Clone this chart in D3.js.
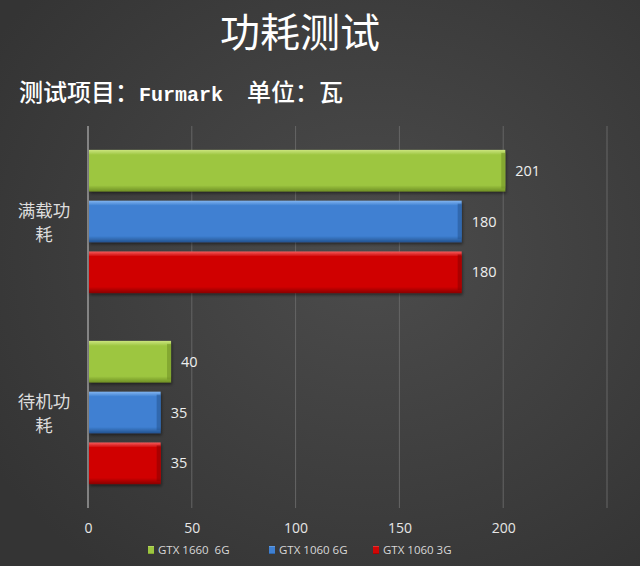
<!DOCTYPE html>
<html>
<head>
<meta charset="utf-8">
<script src="https://cdn.jsdelivr.net/npm/d3@7"></script>
<style>
  html, body { margin: 0; padding: 0; background: #3d3d3d; }
  svg { display: block; }
</style>
</head>
<body>
<svg id="chart"></svg>
<script>
// data
const categories = ["满载功耗", "待机功耗"];
const categoryLines = [["满载功", "耗"], ["待机功", "耗"]];
const series = ["GTX 1660  6G", "GTX 1060 6G", "GTX 1060 3G"];
const gtx1660_6g = [201, 40];
const gtx1060_6g = [180, 35];
const gtx1060_3g = [180, 35];
const xTicks = [0, 50, 100, 150, 200];

const values = [gtx1660_6g, gtx1060_6g, gtx1060_3g];
const colors = [
  { top: "#cce57f", mid: "#9dc640", bot: "#6f8f24" },
  { top: "#82b5f0", mid: "#3f80d2", bot: "#24538f" },
  { top: "#f45c5c", mid: "#d00606", bot: "#8a0000" }
];

const width = 640, height = 566;
const margin = { top: 126, right: 33, bottom: 58, left: 88 };

const svg = d3.select("#chart")
  .attr("width", width)
  .attr("height", height);

const defs = svg.append("defs");

// background
const bg = defs.append("radialGradient").attr("id", "bg")
  .attr("cx", "58%").attr("cy", "45%").attr("r", "70%");
bg.append("stop").attr("offset", "0%").attr("stop-color", "#4c4c4c");
bg.append("stop").attr("offset", "100%").attr("stop-color", "#343434");
svg.append("rect").attr("width", width).attr("height", height).attr("fill", "url(#bg)");

// bar gradients
colors.forEach((c, i) => {
  const g = defs.append("linearGradient").attr("id", "bar" + i)
    .attr("x1", 0).attr("y1", 0).attr("x2", 0).attr("y2", 1);
  g.append("stop").attr("offset", "0%").attr("stop-color", c.top);
  g.append("stop").attr("offset", "12%").attr("stop-color", c.mid);
  g.append("stop").attr("offset", "85%").attr("stop-color", c.mid);
  g.append("stop").attr("offset", "100%").attr("stop-color", c.bot);
});

const shadow = defs.append("filter").attr("id", "shadow")
  .attr("x", "-5%").attr("y", "-20%").attr("width", "115%").attr("height", "150%");
shadow.append("feDropShadow").attr("dx", 1).attr("dy", 2).attr("stdDeviation", 1.5)
  .attr("flood-color", "#000").attr("flood-opacity", 0.45);

const x = d3.scaleLinear()
  .domain([0, 250])
  .range([margin.left, width - margin.right]);

const y = d3.scaleBand()
  .domain(categories)
  .range([margin.top, height - margin.bottom]);

const ySub = d3.scaleBand()
  .domain(series)
  .range([0, y.bandwidth()])
  .paddingInner(0.18)
  .paddingOuter(0.47);

// gridlines
svg.append("g")
  .selectAll("line")
  .data([50, 100, 150, 200, 250])
  .join("line")
    .attr("x1", d => x(d)).attr("x2", d => x(d))
    .attr("y1", margin.top).attr("y2", height - margin.bottom)
    .attr("stroke", "#666666")
    .attr("stroke-width", 1);

// zero axis line
svg.append("line")
  .attr("x1", x(0)).attr("x2", x(0))
  .attr("y1", margin.top).attr("y2", height - margin.bottom)
  .attr("stroke", "#b5b5b5")
  .attr("stroke-width", 1.2);

// x axis labels
const xAxis = svg.append("g")
  .attr("transform", `translate(0, ${height - margin.bottom})`)
  .call(d3.axisBottom(x).tickValues(xTicks).tickSize(0).tickPadding(15));
xAxis.select(".domain").remove();
xAxis.selectAll("text")
  .attr("fill", "#e6e6e6")
  .style("font-family", "'Open Sans', 'DejaVu Sans', sans-serif")
  .style("font-size", "14px");

// bars
const groups = svg.append("g")
  .selectAll("g")
  .data(categories)
  .join("g")
    .attr("transform", d => `translate(0, ${y(d)})`);

groups.each(function(cat, ci) {
  const g = d3.select(this);
  const rows = series.map((s, si) => ({ s, si, v: values[si][ci] }));

  g.selectAll("rect")
    .data(rows)
    .join("rect")
      .attr("x", x(0) + 1)
      .attr("y", d => ySub(d.s))
      .attr("width", d => x(d.v) - x(0) - 1)
      .attr("height", ySub.bandwidth())
      .attr("fill", d => `url(#bar${d.si})`)
      .attr("filter", "url(#shadow)");

  // right bevel edge
  g.selectAll("rect.edge")
    .data(rows)
    .join("rect")
      .attr("class", "edge")
      .attr("x", d => x(d.v) - 4)
      .attr("y", d => ySub(d.s) + 3)
      .attr("width", 4)
      .attr("height", ySub.bandwidth() - 6)
      .attr("fill", d => colors[d.si].bot)
      .attr("opacity", 0.55);

  g.selectAll("text")
    .data(rows)
    .join("text")
      .attr("x", d => x(d.v) + 10)
      .attr("y", d => ySub(d.s) + ySub.bandwidth() / 2)
      .attr("dy", "0.35em")
      .attr("fill", "#eeeeee")
      .style("font-family", "'Open Sans', 'DejaVu Sans', sans-serif")
      .style("font-size", "14.5px")
      .text(d => d.v);
});

// category labels
svg.append("g")
  .selectAll("text")
  .data(categories)
  .join("text")
    .attr("text-anchor", "middle")
    .attr("fill", "#dddddd")
    .style("font-family", "'Noto Sans CJK SC', sans-serif")
    .style("font-size", "17.5px")
    .each(function(d, i) {
      const t = d3.select(this);
      const cy = y(d) + y.bandwidth() / 2;
      categoryLines[i].forEach((line, li) => {
        t.append("tspan")
          .attr("x", 44)
          .attr("y", cy - 5 + li * 24)
          .text(line);
      });
    });

// title
svg.append("text")
  .attr("x", 300)
  .attr("y", 47)
  .attr("text-anchor", "middle")
  .attr("fill", "#ffffff")
  .style("font-family", "'Noto Sans CJK SC', sans-serif")
  .style("font-size", "40px")
  .style("font-weight", "normal")
  .text("功耗测试");

// subtitle: CJK text full-width, Latin half-width
const sub = svg.append("text")
  .attr("x", 19)
  .attr("y", 101)
  .attr("fill", "#ffffff")
  .attr("xml:space", "preserve")
  .style("font-weight", "500");
sub.append("tspan")
  .style("font-family", "'Noto Sans CJK SC', sans-serif")
  .style("font-size", "24px")
  .text("测试项目：");
sub.append("tspan")
  .style("font-family", "'Liberation Mono', 'DejaVu Sans Mono', monospace")
  .style("font-size", "20px")
  .style("font-weight", "bold")
  .text("Furmark  ");
sub.append("tspan")
  .style("font-family", "'Noto Sans CJK SC', sans-serif")
  .style("font-size", "24px")
  .text("单位：瓦");

// legend
const legendX = [148, 269, 373];
const legend = svg.append("g")
  .selectAll("g")
  .data(series)
  .join("g")
    .attr("transform", (d, i) => `translate(${legendX[i]}, 550)`);

legend.append("rect")
  .attr("x", 0).attr("y", -4)
  .attr("width", 6).attr("height", 8)
  .attr("fill", (d, i) => `url(#bar${i})`);

legend.append("text")
  .attr("x", 10)
  .attr("dy", "0.35em")
  .attr("fill", "#d8d8d8")
  .attr("xml:space", "preserve")
  .style("font-family", "'Open Sans', 'DejaVu Sans', sans-serif")
  .style("font-size", "11.5px")
  .text(d => d);
</script>
</body>
</html>
